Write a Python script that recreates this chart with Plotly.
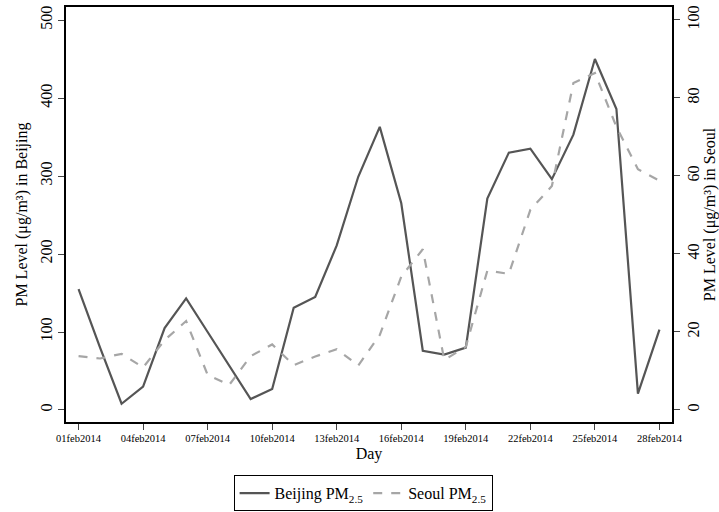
import pandas as pd
import plotly.graph_objects as go

# Daily PM2.5 readings, February 2014
days = list(range(1, 29))
beijing_pm25 = [155, 80, 8, 30, 105, 143, 100, 57, 14, 27, 131, 145, 211, 299,
                363, 265, 76, 71, 80, 271, 330, 335, 296, 353, 450, 386, 21, 103]
seoul_pm25 = [13.8, 13.2, 14.4, 10.9, 17.9, 22.8, 9.0, 6.4, 13.8, 16.8, 11.5, 13.7,
              15.6, 11.4, 19.2, 34.2, 41.2, 12.8, 16.2, 35.7, 34.9, 51.3, 57.4, 83.8,
              86.4, 72.6, 61.7, 58.8]
tick_days = [1, 4, 7, 10, 13, 16, 19, 22, 25, 28]

dates = [pd.Timestamp(2014, 2, d) for d in days]
tick_dates = [pd.Timestamp(2014, 2, d) for d in tick_days]
tick_text = [t.strftime("%d%b%Y").lower() for t in tick_dates]

font_family = "Liberation Serif"

fig = go.Figure()
fig.add_trace(go.Scatter(
    x=dates, y=beijing_pm25, mode="lines", name="Beijing PM<sub>2.5</sub>",
    line=dict(color="#555555", width=2.2), yaxis="y",
))
fig.add_trace(go.Scatter(
    x=dates, y=seoul_pm25, mode="lines", name="Seoul PM<sub>2.5</sub>",
    line=dict(color="#a6a6a6", width=2.2, dash="dash"), yaxis="y2",
))

fig.update_layout(
    width=719, height=512,
    margin=dict(l=66, r=47, t=7, b=90, autoexpand=False),
    plot_bgcolor="white", paper_bgcolor="white",
    font=dict(family=font_family, color="black", size=16),
    showlegend=True,
    legend=dict(
        orientation="h", x=0.505, xanchor="center", xref="container",
        y=0.072, yanchor="top", yref="container",
        bordercolor="black", borderwidth=1, bgcolor="white",
        font=dict(size=16, family=font_family),
        itemwidth=30,
    ),
    xaxis=dict(
        range=[pd.Timestamp(2014, 1, 31, 10), pd.Timestamp(2014, 2, 28, 14)],
        tickvals=tick_dates, ticktext=tick_text, tickangle=0,
        tickfont=dict(size=10.5), ticks="outside", ticklen=6, tickwidth=1.3,
        showline=True, linecolor="black", linewidth=1.5, mirror=True,
        showgrid=False, zeroline=False, automargin=False,
        title=dict(text="Day", font=dict(size=16), standoff=4),
    ),
    yaxis=dict(
        range=[-15.4, 516.7], tickvals=[0, 100, 200, 300, 400, 500],
        tickangle=-90, tickfont=dict(size=16), ticks="outside", ticklen=6,
        tickwidth=1.3, showline=True, linecolor="black", linewidth=1.5,
        showgrid=False, zeroline=False, automargin=False,
        title=dict(text="PM Level (μg/m³) in Beijing", font=dict(size=16), standoff=6),
    ),
    yaxis2=dict(
        range=[-3.08, 103.3], tickvals=[0, 20, 40, 60, 80, 100],
        overlaying="y", side="right",
        tickangle=-90, tickfont=dict(size=16), ticks="outside", ticklen=6,
        tickwidth=1.3, showline=True, linecolor="black", linewidth=1.5,
        showgrid=False, zeroline=False, automargin=False,
        title=dict(text="PM Level (μg/m³) in Seoul", font=dict(size=16), standoff=6),
    ),
)

fig.write_html("out.html")
